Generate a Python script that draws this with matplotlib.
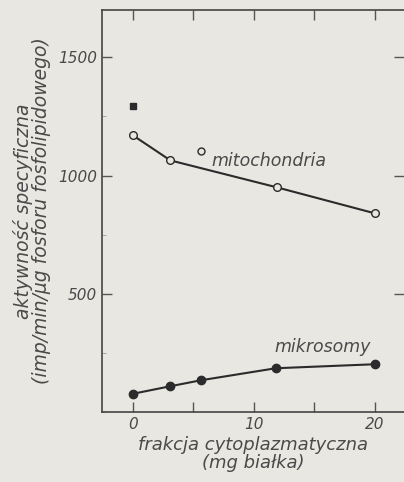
import numpy as np
import matplotlib.pyplot as plt
from matplotlib.ticker import MultipleLocator

MITO_X = [0, 3.1, 11.9, 20]
MITO_Y = [1170, 1064, 950, 840]
MIKRO_X = [0, 3.1, 5.6, 11.8, 20]
MIKRO_Y = [77, 109, 134, 185, 202]
SQUARE_X = [0]
SQUARE_Y = [1293]
LONE_X = [5.6]
LONE_Y = [1103]

X_TICKS = [0, 10, 20]
Y_TICKS = [500, 1000, 1500]

BG = '#e9e7e2'
INK = '#2b2b2b'
TXT = '#4a4a4a'

plt.rcParams['font.family'] = ['DejaVu Sans']

fig = plt.figure(figsize=(4.04, 4.82), dpi=100, facecolor=BG)
ax = fig.add_axes([102/404, 70/482, 302/404, 402/482], facecolor=BG)

ax.plot(MITO_X, MITO_Y, '-o', color=INK, lw=1.5, ms=5.5,
        mfc=BG, mec=INK, mew=1.0)
ax.plot(MIKRO_X, MIKRO_Y, '-o', color=INK, lw=1.5, ms=6, mfc=INK, mec=INK)
ax.plot(SQUARE_X, SQUARE_Y, 's', color=INK, ms=5)
ax.plot(LONE_X, LONE_Y, 'o', ms=5, mfc=BG, mec=INK, mew=1.0)

ax.text(6.5, 1060, 'mitochondria', fontsize=12.5, style='italic', color=TXT,
        va='center')
ax.text(11.7, 275, 'mikrosomy', fontsize=12.5, style='italic', color=TXT,
        va='center')

ax.set_xlim(-2.55, 22.4)
ax.set_ylim(0, 1700)
ax.set_xticks(X_TICKS)
ax.set_yticks(Y_TICKS)
ax.xaxis.set_minor_locator(MultipleLocator(5))
ax.yaxis.set_minor_locator(MultipleLocator(250))
ax.tick_params(which='both', direction='in', top=True, right=True,
               color='#555555', labelsize=11, labelcolor=TXT)
ax.tick_params(which='major', length=7, width=1)
ax.tick_params(axis='y', which='minor', left=True, right=False, length=3,
               color='#9a9a9a')
ax.tick_params(axis='x', which='minor', top=True, bottom=True, length=7,
               width=1)
for lab in ax.get_xticklabels() + ax.get_yticklabels():
    lab.set_style('italic')

for s in ['left', 'top', 'bottom']:
    ax.spines[s].set_color('#444444')
    ax.spines[s].set_linewidth(1.2)
ax.spines['right'].set_visible(False)

ax.set_xlabel('frakcja cytoplazmatyczna\n(mg białka)', fontsize=13,
              style='italic', color=TXT, linespacing=1.0, labelpad=3)
ax.set_ylabel('aktywność specyficzna\n(imp/min/μg fosforu fosfolipidowego)',
              fontsize=13.5, style='italic', color=TXT, linespacing=0.95,
              labelpad=5)

fig.savefig('out.png', dpi=100, facecolor=BG)
